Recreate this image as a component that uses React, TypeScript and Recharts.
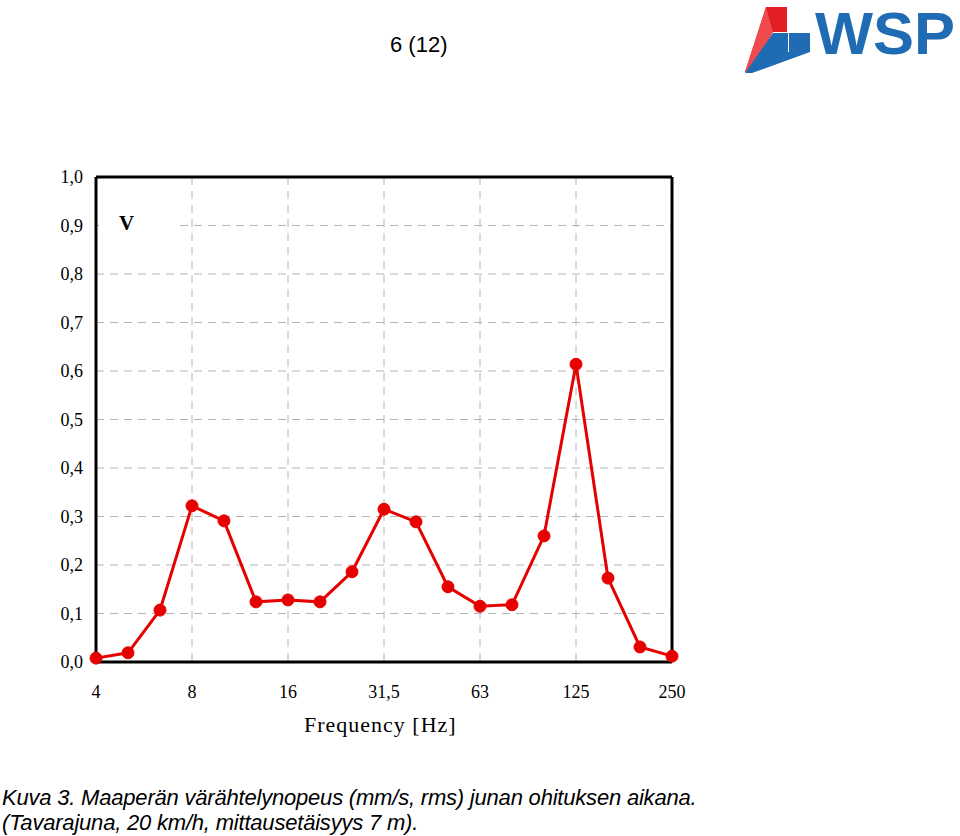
import React from 'react';
import {
  LineChart,
  Line,
  XAxis,
  YAxis,
  CartesianGrid,
  ReferenceLine,
  ReferenceArea,
} from 'recharts';

// Third-octave band centre frequencies (labels)
const bandLabels = ['4', '5', '6,3', '8', '10', '12,5', '16', '20', '25', '31,5', '40', '50', '63', '80', '100', '125', '160', '200', '250'];
// Ground vibration velocity (mm/s, rms)
const velocity = [0.008, 0.019, 0.107, 0.322, 0.291, 0.124, 0.128, 0.124, 0.186, 0.315, 0.289, 0.155, 0.115, 0.118, 0.26, 0.614, 0.173, 0.031, 0.012];
// Octave tick positions (band index)
const octaveTicks = [0, 3, 6, 9, 12, 15, 18];
const midOctaveTicks = [1.5, 4.5, 7.5, 10.5, 13.5, 16.5];
const yTicks = [0, 0.1, 0.2, 0.3, 0.4, 0.5, 0.6, 0.7, 0.8, 0.9, 1.0];
const yMinorTicks = [0.05, 0.15, 0.25, 0.35, 0.45, 0.55, 0.65, 0.75, 0.85, 0.95];

const data = velocity.map((v, i) => ({ idx: i, v }));

const serif = '"Liberation Serif", "Times New Roman", serif';
const sans = '"Liberation Sans", Arial, sans-serif';

export default function App() {
  return (
    <div style={{ position: 'absolute', left: 0, top: 0, width: 960, height: 836, background: '#fff', overflow: 'hidden' }}>
      <div style={{ position: 'absolute', left: 390, top: 32, fontFamily: sans, fontSize: 22, lineHeight: '26px', color: '#000' }}>6 (12)</div>

      <svg style={{ position: 'absolute', left: 0, top: 0 }} width={960} height={80}>
        <polygon points="766,7 787,7 787,32 773,32 751,69 745,72" fill="#e31e24" />
        <polygon points="766,7 773,32 751,69 745,72" fill="#f04a4e" />
        <polygon points="773,33 788,33 788,52 810,52 752,73 745,73" fill="#1f6cb4" />
        <rect x={789} y={33} width={21} height={19} fill="#1f6cb4" />
        <text x={815} y={54} fontFamily={sans} fontWeight="bold" fontSize={60} fill="#1f6cb4" textLength={140} lengthAdjust="spacingAndGlyphs">WSP</text>
      </svg>

      <div style={{ position: 'absolute', left: 0, top: 0 }}>
        <LineChart
          width={960}
          height={836}
          data={data}
          margin={{ top: 177, right: 288, left: 36, bottom: 144 }}
        >
          <CartesianGrid
            stroke="#b4b4b4"
            strokeDasharray="8 6"
            strokeWidth={1}
            horizontalValues={yTicks}
            verticalValues={octaveTicks}
          />
          <XAxis
            dataKey="idx"
            type="number"
            domain={[0, 18]}
            ticks={octaveTicks}
            tickFormatter={(v: number) => bandLabels[v]}
            axisLine={{ stroke: '#000', strokeWidth: 3 }}
            tickLine={false}
            tickSize={0}
            tickMargin={23}
            height={30}
            tick={{ fill: '#000', fontSize: 18, fontFamily: serif }}
            interval={0}
          />
          <XAxis
            xAxisId="minor"
            dataKey="idx"
            type="number"
            domain={[0, 18]}
            ticks={midOctaveTicks}
            tickFormatter={() => ''}
            axisLine={false}
            tickLine={{ stroke: '#999' }}
            tickSize={5}
            mirror
            height={0}
            interval={0}
          />
          <YAxis
            type="number"
            domain={[0, 1]}
            ticks={yTicks}
            tickFormatter={(v: number) => v.toFixed(1).replace('.', ',')}
            axisLine={{ stroke: '#000', strokeWidth: 3 }}
            tickLine={false}
            tickSize={0}
            tickMargin={13}
            width={60}
            tick={{ fill: '#000', fontSize: 18, fontFamily: serif }}
            interval={0}
          />
          <YAxis
            yAxisId="minor"
            type="number"
            domain={[0, 1]}
            ticks={yMinorTicks}
            tickFormatter={() => ''}
            axisLine={false}
            tickLine={{ stroke: '#999' }}
            tickSize={5}
            mirror
            width={0}
            interval={0}
          />
          <ReferenceArea x1={0.1} x2={2.45} y1={0.88} y2={0.92} fill="#fff" fillOpacity={1} stroke="none" ifOverflow="visible" />
          <ReferenceLine y={1} stroke="#000" strokeWidth={3} ifOverflow="visible" />
          <ReferenceLine x={18} stroke="#000" strokeWidth={3} ifOverflow="visible" />
          <Line
            dataKey="v"
            type="linear"
            stroke="#e60000"
            strokeWidth={3}
            dot={{ r: 6, fill: '#e60000', stroke: '#e60000', strokeWidth: 1 }}
            isAnimationActive={false}
          />
        </LineChart>
      </div>

      <div style={{ position: 'absolute', left: 119, top: 211, fontFamily: serif, fontWeight: 'bold', fontSize: 21, color: '#000' }}>V</div>
      <div style={{ position: 'absolute', left: 304, top: 712, fontFamily: serif, fontSize: 22, letterSpacing: 1, lineHeight: '26px', color: '#000' }}>Frequency [Hz]</div>

      <div style={{ position: 'absolute', left: 2, top: 785, fontFamily: sans, fontStyle: 'italic', fontSize: 22, letterSpacing: -0.2, lineHeight: '25px', color: '#000' }}>
        Kuva 3. Maaperän värähtelynopeus (mm/s, rms) junan ohituksen aikana.
        <br />
        (Tavarajuna, 20 km/h, mittausetäisyys 7 m).
      </div>
    </div>
  );
}
